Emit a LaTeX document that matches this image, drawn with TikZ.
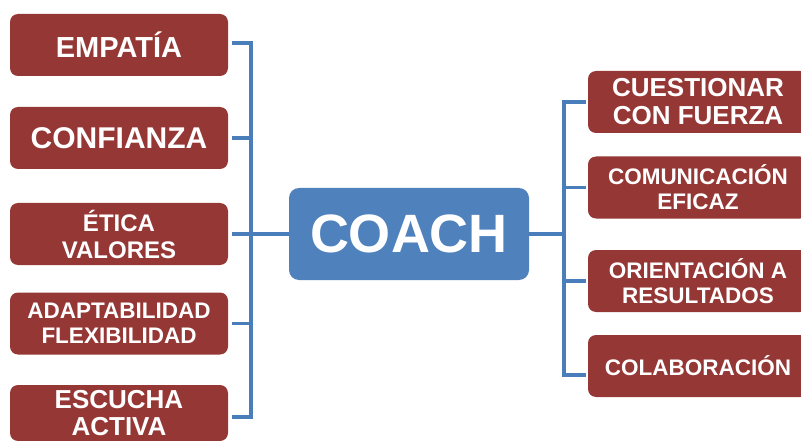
\documentclass[tikz,border=0pt]{standalone}
\usepackage{fontspec}
\setmainfont{Liberation Sans}
\definecolor{boxred}{HTML}{953735}
\definecolor{coachblue}{HTML}{4F81BD}
\definecolor{linkblue}{HTML}{4A7EBB}
\newcommand{\fsz}[2]{\fontsize{#1}{#2}\selectfont\bfseries}
\tikzset{
  redbox/.style={fill=boxred, rounded corners=8pt, minimum width=218pt,
    minimum height=62pt, text=white, align=center, inner sep=0pt},
  rightbox/.style={redbox, minimum width=220pt},
  coachbox/.style={fill=coachblue, rounded corners=10pt, minimum width=240pt,
    minimum height=92pt, text=white, inner sep=0pt, font=\fsz{54}{60}},
  link/.style={draw=linkblue, line width=3.5pt}
}
\begin{document}
\begin{tikzpicture}[x=1pt, y=-1pt]
\useasboundingbox (0,0) rectangle (801,441);
% left boxes
\node[redbox, font=\fsz{29}{32}] (e1) at (119,45) {EMPATÍA};
\node[redbox, font=\fsz{30}{33}] (e2) at (119,138) {CONFIANZA};
\node[redbox, font=\fsz{24}{27}] (e3) at (119,234) {ÉTICA\\VALORES};
\node[redbox, font=\fsz{22.5}{25}] (e4) at (119,323.5) {ADAPTABILIDAD\\FLEXIBILIDAD};
\node[redbox, minimum height=56pt, font=\fsz{26}{27}] (e5) at (119,413) {ESCUCHA\\ACTIVA};
% center
\node[coachbox] (coach) at (409,234) {COACH};
% right boxes
\node[rightbox, font=\fsz{26}{28}] (r1) at (698,102) {CUESTIONAR\\CON FUERZA};
\node[rightbox, font=\fsz{22.5}{25}] (r2) at (698,187.5) {COMUNICACIÓN\\EFICAZ};
\node[rightbox, font=\fsz{22.5}{25}] (r3) at (698,281) {ORIENTACIÓN A\\RESULTADOS};
\node[rightbox, font=\fsz{22.5}{25}] (r4) at (698,366) {COLABORACIÓN};
% connectors left
\coordinate (lbar) at (251,234);
\draw[link] ([xshift=4pt,yshift=2pt]e1.east) -| (lbar) |- ([xshift=4pt,yshift=-4pt]e5.east);
\draw[link] ([xshift=4pt]e2.east) -- (e2.east -| lbar);
\draw[link] ([xshift=4pt]e3.east) -- (coach.west);
\draw[link] ([xshift=4pt]e4.east) -- (e4.east -| lbar);
% connectors right
\coordinate (rbar) at (564,234);
\draw[link] ([xshift=-2pt]r1.west) -| (rbar) |- ([xshift=-2pt,yshift=-9pt]r4.west);
\draw[link] (coach.east) -- (rbar);
\draw[link] ([xshift=-2pt]r2.west) -- (r2.west -| rbar);
\draw[link] ([xshift=-2pt]r3.west) -- (r3.west -| rbar);
\end{tikzpicture}
\end{document}
